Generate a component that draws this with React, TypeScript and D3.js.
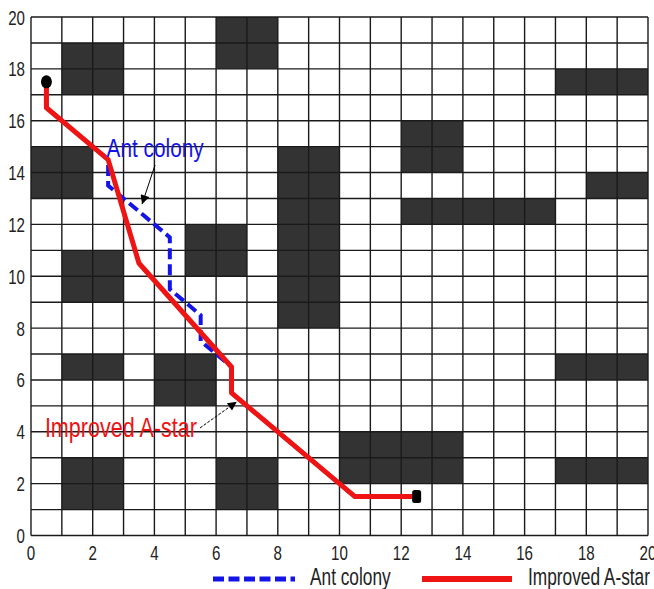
import React, { useEffect, useRef } from 'react';
import * as d3 from 'd3';

// obstacle blocks: [x, y, width, height] in grid units
const obstacles: [number, number, number, number][] = [
  [1, 17, 2, 2], [6, 18, 2, 2], [17, 17, 3, 1],
  [0, 13, 2, 2], [12, 14, 2, 2], [18, 13, 2, 1],
  [8, 8, 2, 7], [12, 12, 5, 1], [5, 10, 2, 2],
  [1, 9, 2, 2], [1, 6, 2, 1], [4, 5, 2, 2],
  [17, 6, 3, 1], [10, 2, 4, 2], [1, 1, 2, 2],
  [6, 1, 2, 2], [17, 2, 3, 1],
];

const antColony: [number, number][] = [
  [0.5, 17.5], [0.5, 16.5], [2.5, 14.5], [2.5, 13.5], [4.5, 11.5],
  [4.5, 9.5], [5.5, 8.5], [5.5, 7.5], [6.5, 6.5], [6.5, 5.5],
  [10.5, 1.5], [12.5, 1.5],
];

const improvedAStar: [number, number][] = [
  [0.5, 17.5], [0.5, 16.5], [2.5, 14.5], [3.5, 10.5], [6.5, 6.5],
  [6.5, 5.5], [10.5, 1.5], [12.5, 1.5],
];

const startPoint: [number, number] = [0.5, 17.5];
const endPoint: [number, number] = [12.5, 1.5];
const ticks = [0, 2, 4, 6, 8, 10, 12, 14, 16, 18, 20];

const BLUE = '#1414e6';
const RED = '#ee1414';

const App = () => {
  const svgRef = useRef<SVGSVGElement>(null);

  useEffect(() => {
    const svg = d3.select(svgRef.current);
    svg.selectAll('*').remove();

    const x = d3.scaleLinear().domain([0, 20]).range([31, 648]);
    const y = d3.scaleLinear().domain([0, 20]).range([535.5, 17]);

    svg.append('rect').attr('width', 654).attr('height', 589).attr('fill', '#fff');

    // obstacles
    svg.append('g')
      .selectAll('rect')
      .data(obstacles)
      .enter()
      .append('rect')
      .attr('x', d => x(d[0]))
      .attr('y', d => y(d[1] + d[3]))
      .attr('width', d => x(d[0] + d[2]) - x(d[0]))
      .attr('height', d => y(d[1]) - y(d[1] + d[3]))
      .attr('fill', '#333');

    // grid
    const units = d3.range(0, 21);
    const grid = svg.append('g').attr('stroke', '#1a1a1a').attr('stroke-width', 1.4);
    grid.selectAll('.v').data(units).enter().append('line')
      .attr('x1', d => x(d)).attr('x2', d => x(d))
      .attr('y1', y(0)).attr('y2', y(20));
    grid.selectAll('.h').data(units).enter().append('line')
      .attr('y1', d => y(d)).attr('y2', d => y(d))
      .attr('x1', x(0)).attr('x2', x(20));

    // tick labels
    const tickFont = 21;
    svg.append('g').selectAll('text').data(ticks).enter().append('text')
      .attr('transform', d => `translate(${x(0) - 6},${y(d) + 7.5}) scale(0.72,1)`)
      .attr('text-anchor', 'end')
      .style('font-family', 'Liberation Sans, Arial, sans-serif')
      .style('font-size', `${tickFont}px`)
      .style('fill', '#222')
      .text(d => d);
    svg.append('g').selectAll('text').data(ticks).enter().append('text')
      .attr('transform', d => `translate(${x(d)},${y(0) + 24.5}) scale(0.72,1)`)
      .attr('text-anchor', 'middle')
      .style('font-family', 'Liberation Sans, Arial, sans-serif')
      .style('font-size', `${tickFont}px`)
      .style('fill', '#222')
      .text(d => d);

    const line = d3.line<[number, number]>().x(d => x(d[0])).y(d => y(d[1]));

    svg.append('path')
      .attr('d', line(antColony))
      .attr('fill', 'none')
      .attr('stroke', BLUE)
      .attr('stroke-width', 4)
      .attr('stroke-dasharray', '11 5');

    svg.append('path')
      .attr('d', line(improvedAStar))
      .attr('fill', 'none')
      .attr('stroke', RED)
      .attr('stroke-width', 5)
      .attr('stroke-linejoin', 'round');

    // start / end markers
    svg.append('ellipse')
      .attr('cx', x(startPoint[0])).attr('cy', y(startPoint[1]))
      .attr('rx', 5.5).attr('ry', 6.5).attr('fill', '#000');
    svg.append('rect')
      .attr('x', x(endPoint[0]) - 4.5).attr('y', y(endPoint[1]) - 6.5)
      .attr('width', 9).attr('height', 13).attr('rx', 2.5).attr('fill', '#000');

    // annotations
    svg.append('defs').append('marker')
      .attr('id', 'arrow')
      .attr('viewBox', '0 0 10 10')
      .attr('refX', 10).attr('refY', 5)
      .attr('markerWidth', 11).attr('markerHeight', 9)
      .attr('markerUnits', 'userSpaceOnUse')
      .attr('orient', 'auto')
      .append('path')
      .attr('d', 'M0,0 L10,5 L0,10 Z')
      .attr('fill', '#000');

    svg.append('line')
      .attr('x1', x(4.02)).attr('y1', y(14.29))
      .attr('x2', x(3.6)).attr('y2', y(12.78))
      .attr('stroke', '#000').attr('stroke-width', 1)
      .attr('marker-end', 'url(#arrow)');
    svg.append('line')
      .attr('x1', x(5.48)).attr('y1', y(4.15))
      .attr('x2', x(6.67)).attr('y2', y(5.16))
      .attr('stroke', '#000').attr('stroke-width', 1)
      .attr('stroke-dasharray', '3 1.5')
      .attr('marker-end', 'url(#arrow)');

    svg.append('text')
      .attr('transform', `translate(${x(2.45)},${y(14.6)}) scale(0.8,1)`)
      .style('font-family', 'Liberation Sans, Arial, sans-serif')
      .style('font-size', '26px')
      .style('fill', BLUE)
      .text('Ant colony');
    svg.append('text')
      .attr('transform', `translate(${x(0.45)},${y(3.81)}) scale(0.77,1)`)
      .style('font-family', 'Liberation Sans, Arial, sans-serif')
      .style('font-size', '28px')
      .style('fill', RED)
      .text('Improved A-star');

    // legend
    const lg = svg.append('g');
    lg.append('line')
      .attr('x1', 213).attr('x2', 295).attr('y1', 579).attr('y2', 579)
      .attr('stroke', BLUE).attr('stroke-width', 5)
      .attr('stroke-dasharray', '11 4.5');
    lg.append('text')
      .attr('transform', 'translate(310,585) scale(0.72,1)')
      .style('font-family', 'Liberation Sans, Arial, sans-serif')
      .style('font-size', '24px')
      .style('fill', '#222')
      .text('Ant colony');
    lg.append('line')
      .attr('x1', 422).attr('x2', 512).attr('y1', 579).attr('y2', 579)
      .attr('stroke', RED).attr('stroke-width', 6);
    lg.append('text')
      .attr('transform', 'translate(528,585) scale(0.72,1)')
      .style('font-family', 'Liberation Sans, Arial, sans-serif')
      .style('font-size', '24px')
      .style('fill', '#222')
      .text('Improved A-star');
  }, []);

  return (
    <svg
      ref={svgRef}
      width={654}
      height={589}
      style={{ position: 'absolute', left: 0, top: 0 }}
    />
  );
};

export default App;
